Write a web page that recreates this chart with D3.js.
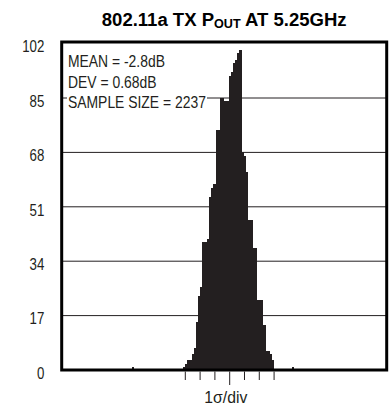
<!DOCTYPE html>
<html><head><meta charset="utf-8">
<script src="https://cdn.jsdelivr.net/npm/d3@7"></script>
<style>html,body{margin:0;padding:0;background:#fff;}svg{display:block;}</style>
</head><body>
<svg id="chart" width="389" height="408"></svg>
<script>
// ---- data ----
const yTicks = [0, 17, 34, 51, 68, 85, 102];
const meanDb = -2.8;
const devDb = 0.68;
const sampleSize = 2237;
const sigmaTicks = [-3, -2, -1, 0, 1, 2, 3];
const binStart = -4.95;          // dB, left edge of first bin
const binWidth = 0.1;            // dB
const counts = [1, 2, 3, 3, 5, 7, 15, 23, 26, 40, 40, 41, 54, 57, 58, 75, 75, 85, 85, 84, 84, 92, 93, 96, 97, 99, 100, 68, 67, 62, 47, 47, 38, 38, 22, 22, 22, 14, 6, 6, 5, 3];
const outlierStarts = [-7.3, 0.05];
const outlierCounts = [1, 1];
const annotation = ["MEAN = -2.8dB", "DEV = 0.68dB", "SAMPLE SIZE = 2237"];

// ---- layout ----
const svg = d3.select("#chart");
const L = 61.7, R = 386.7, T = 42, B = 370;
const x = d3.scaleLinear().domain([-10.52, 4.415]).range([L, R]);
const y = d3.scaleLinear().domain([0, 102]).range([B, 43.6]);
const ink = "#231f20";
const font = "'Liberation Sans', Arial, sans-serif";

// gridlines
svg.append("g").selectAll("line").data(yTicks.filter(d => d > 0 && d < 102)).join("line")
  .attr("x1", L).attr("x2", R).attr("y1", d => y(d)).attr("y2", d => y(d))
  .attr("stroke", ink).attr("stroke-width", 1);

// white box behind annotation crossing gridline
svg.append("rect").attr("x", 67).attr("y", 90).attr("width", 140).attr("height", 17).attr("fill", "#fff");

// bars
const bins = counts.map((c, i) => ({x0: binStart + i * binWidth, c}));
outlierStarts.forEach((s, i) => bins.push({x0: s, c: outlierCounts[i]}));
svg.append("g").attr("shape-rendering", "crispEdges").selectAll("rect").data(bins).join("rect")
  .attr("x", d => x(d.x0)).attr("width", d => x(d.x0 + binWidth) - x(d.x0))
  .attr("y", d => y(d.c)).attr("height", d => y(0) - y(d.c))
  .attr("fill", ink);

// frame
svg.append("rect").attr("x", L).attr("y", T).attr("width", R - L).attr("height", B - T)
  .attr("fill", "none").attr("stroke", "#000").attr("stroke-width", 3);

// x ticks (sigma)
const xt = svg.append("g");
xt.selectAll("line").data(sigmaTicks).join("line")
  .attr("x1", d => x(meanDb + d * devDb)).attr("x2", d => x(meanDb + d * devDb))
  .attr("y1", B + 1.5).attr("y2", d => d === 0 ? B + 15 : B + 10)
  .attr("stroke", ink).attr("stroke-width", 1);

// helper: horizontally scaled text
function sText(px, py, str, size, anchor, sx, weight) {
  const g = svg.append("g");
  const t = g.append("text").attr("x", 0).attr("y", 0).attr("font-family", font)
    .attr("font-size", size).attr("text-anchor", anchor).attr("fill", ink)
    .attr("font-weight", weight || "normal").text(str);
  g.attr("transform", `translate(${px},${py}) scale(${sx},1)`);
  return {g, t};
}
function widthOf(str, size, weight) {
  const t = svg.append("text").attr("font-family", font).attr("font-size", size)
    .attr("font-weight", weight || "normal").text(str);
  const w = t.node().getComputedTextLength(); t.remove(); return w;
}

// y labels
yTicks.forEach(v => sText(44.3, y(v) + 8.7, String(v), 16, "end", 0.83));

// annotation
const annScale = 138 / widthOf(annotation[2], 17);
const annY = [67, 87.5, 108];
annotation.forEach((s, i) => sText(68, annY[i], s, 17, "start", annScale));

// x label
const xlW = widthOf("1σ/div", 17);
sText(225.8, 403, "1σ/div", 17, "middle", 43 / xlW);

// title
const tg = svg.append("g");
const tt = tg.append("text").attr("font-family", font).attr("font-weight", "bold")
  .attr("font-size", 18.5).attr("fill", "#000").attr("text-anchor", "middle");
tt.append("tspan").text("802.11a TX P");
tt.append("tspan").attr("font-size", 12.6).attr("dy", 1.2).text("OUT");
tt.append("tspan").attr("dy", -1.2).text(" AT 5.25GHz");
const tw = tt.node().getComputedTextLength();
tg.attr("transform", `translate(224.2,26.3) scale(${245 / tw},1)`);
</script>
</body></html>
